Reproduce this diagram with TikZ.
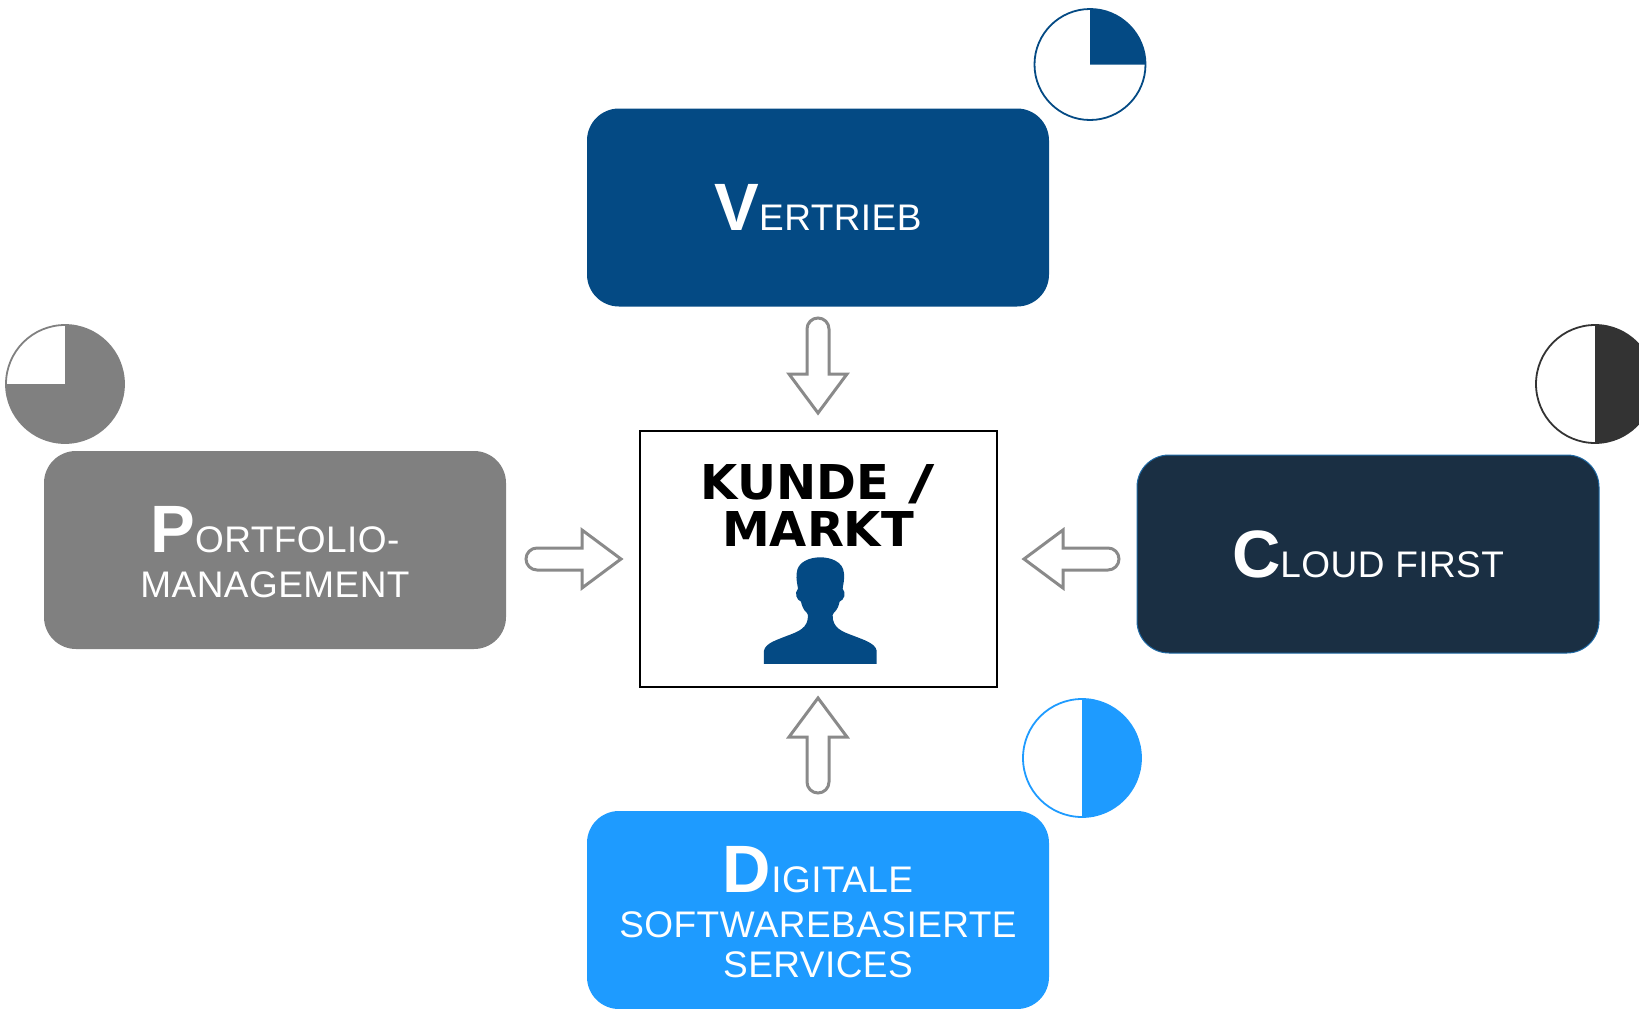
\documentclass[tikz,border=0pt]{standalone}
\usepackage{fontspec}
\usepackage{xcolor}
\setmainfont[LetterSpace=1.2]{Liberation Sans}
\newfontfamily\kundefont{DejaVu Sans}
\definecolor{vertriebblue}{HTML}{044A84}
\definecolor{portfoliogray}{HTML}{808080}
\definecolor{cloudnavy}{HTML}{1A2F43}
\definecolor{cloudedge}{HTML}{1F6AA5}
\definecolor{digitalblue}{HTML}{1E9BFF}
\definecolor{piedark}{HTML}{333333}
\definecolor{arrowgray}{HTML}{8A8A8A}
\newcommand{\capinit}[1]{{\fontsize{67}{64}\selectfont\bfseries #1}}
\tikzset{
  themebox/.style={rounded corners=32pt,minimum width=462pt,minimum height=198pt,inner sep=0pt,
    align=center,text=white,font=\fontsize{37}{41}\selectfont},
  themetext/.style={inner sep=0pt,align=center,text=white,font=\fontsize{37}{41}\selectfont},
  piering/.style={circle,minimum size=#1,inner sep=0pt,line width=1.8pt,fill=white},
  blockarrow/.pic={
    \draw[arrowgray,line width=3pt,fill=white,line join=miter]
      (-11,8) -- (-11,-37) arc[start angle=180,end angle=0,radius=11pt] -- (11,8)
      -- (29,8) -- (0,47) -- (-29,8) -- cycle;
  }
}
\begin{document}
\begin{tikzpicture}[x=1pt,y=-1pt]
\useasboundingbox (0,0) rectangle (1639,1009);
\clip (0,0) rectangle (1639,1009);
% boxes
\node[themebox,fill=vertriebblue] (vertrieb) at (818,207.5) {\capinit{V}ERTRIEB};
\node[themebox,fill=portfoliogray] (portfolio) at (275,550) {};
\node[themetext] (portfoliotext) at (275,552) {\capinit{P}ORTFOLIO-\\[4pt]MANAGEMENT};
\node[themebox,fill=cloudnavy,draw=cloudedge,line width=1pt] (cloud) at (1368,554) {\capinit{C}LOUD FIRST};
\node[themebox,fill=digitalblue] (digital) at (818,910) {};
\node[themetext] (digitaltext) at (818,912.5) {\capinit{D}IGITALE\\[4pt]SOFTWAREBASIERTE\\[-1pt]SERVICES};
% center
\node[draw=black,line width=2pt,minimum width=357pt,minimum height=256pt,inner sep=0pt] (kunde) at (818,559) {};
\node[font=\kundefont\bfseries\fontsize{48}{47}\selectfont,align=center,inner sep=0pt] (kundetext) at (818,505) {KUNDE \kern3pt\scalebox{1.5}[1]{/}\\MARKT};
\begin{scope}[shift={(620,300)},x=0.3333pt,y=-0.3333pt]
\fill[vertriebblue] (432,1092) -- (432,1052) .. controls (436,1030) and (470,1020) .. (500,1008)
  .. controls (535,995) and (565,985) .. (564,945) -- (560,938) .. controls (550,930) and (545,915) .. (543,905)
  .. controls (530,900) and (522,880) .. (534,866) .. controls (532,850) and (528,840) .. (530,820)
  .. controls (532,785) and (570,772) .. (601,772) .. controls (632,772) and (670,785) .. (672,820)
  .. controls (674,840) and (670,850) .. (668,866) .. controls (680,880) and (672,900) .. (659,905)
  .. controls (657,915) and (652,930) .. (642,938) -- (638,945) .. controls (637,985) and (667,995) .. (702,1008)
  .. controls (732,1020) and (766,1030) .. (770,1052) -- (770,1092) -- cycle;
\end{scope}
% arrows
\pic (arrowtop) at (818,366) {blockarrow};
\pic[rotate=180] (arrowbottom) at (818,745) {blockarrow};
\pic[rotate=90] (arrowleft) at (574,559) {blockarrow};
\pic[rotate=-90] (arrowright) at (1071,559) {blockarrow};
% pies
\node[piering=111pt,draw=vertriebblue] (pietop) at (1090,64.5) {};
\fill[vertriebblue] (pietop.center) -- ++(55.5pt,0) arc[start angle=0,end angle=90,radius=55.5pt] -- cycle;
\node[piering=118pt,draw=portfoliogray] (pieleft) at (65,384) {};
\fill[portfoliogray] (pieleft.center) -- ++(0,59pt) arc[start angle=90,end angle=-180,radius=59pt] -- cycle;
\node[piering=118pt,draw=piedark] (pieright) at (1595,384) {};
\fill[piedark] (pieright.center) ++(0,59pt) arc[start angle=90,end angle=-90,radius=59pt] -- cycle;
\node[piering=118pt,draw=digitalblue] (piebottom) at (1082,758) {};
\fill[digitalblue] (piebottom.center) ++(0,59pt) arc[start angle=90,end angle=-90,radius=59pt] -- cycle;
\end{tikzpicture}
\end{document}
